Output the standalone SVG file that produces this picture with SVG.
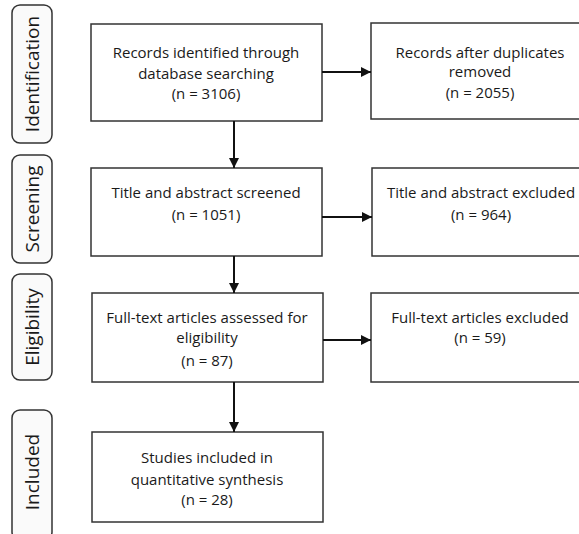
<svg xmlns="http://www.w3.org/2000/svg" width="579" height="534" viewBox="0 0 579 534">
<defs>
<marker id="ah" viewBox="0 0 10 10" refX="10" refY="5" markerWidth="10" markerHeight="10" markerUnits="userSpaceOnUse" orient="auto">
<path d="M0,0 L10,5 L0,10 z" fill="#111"/>
</marker>
</defs>
<style>
.box{fill:#fff;stroke:#333;stroke-width:1.5}
.pill{fill:#fafafa;stroke:#333;stroke-width:1.5}
.t{font-family:"Open Sans","Noto Sans","Liberation Sans",sans-serif;font-size:15px;fill:#1a1a1a;text-anchor:middle}
.s{font-family:"Open Sans","Noto Sans","Liberation Sans",sans-serif;font-size:19px;fill:#1a1a1a;text-anchor:middle}
.c{stroke:#111;stroke-width:2;fill:none;marker-end:url(#ah)}
</style>
<rect width="579" height="534" fill="#fff"/>
<g id="stage-identification"><rect class="pill" x="12" y="5" width="40" height="138" rx="8"/><text class="s" transform="translate(39,74) rotate(-90)">Identification</text></g>
<g id="stage-screening"><rect class="pill" x="12" y="155" width="40" height="108" rx="8"/><text class="s" transform="translate(39,209) rotate(-90)">Screening</text></g>
<g id="stage-eligibility"><rect class="pill" x="12" y="274" width="40" height="106" rx="8"/><text class="s" transform="translate(39,327) rotate(-90)">Eligibility</text></g>
<g id="stage-included"><rect class="pill" x="12" y="410" width="40" height="130" rx="8"/><text class="s" transform="translate(39,472) rotate(-90)">Included</text></g>

<g id="n1"><rect class="box" x="91" y="24" width="231" height="97"/>
<text class="t" x="206" y="58">Records identified through</text>
<text class="t" x="206" y="79">database searching</text>
<text class="t" x="206" y="99">(n = 3106)</text></g>
<g id="n2"><rect class="box" x="371" y="23" width="220" height="96"/>
<text class="t" x="480" y="58">Records after duplicates</text>
<text class="t" x="480" y="77">removed</text>
<text class="t" x="480" y="98">(n = 2055)</text></g>
<g id="n3"><rect class="box" x="91" y="168" width="231" height="88"/>
<text class="t" x="206" y="198">Title and abstract screened</text>
<text class="t" x="206" y="220">(n = 1051)</text></g>
<g id="n4"><rect class="box" x="372" y="168" width="219" height="88"/>
<text class="t" x="481" y="198">Title and abstract excluded</text>
<text class="t" x="481" y="220">(n = 964)</text></g>
<g id="n5"><rect class="box" x="92" y="293" width="231" height="89"/>
<text class="t" x="207" y="323">Full-text articles assessed for</text>
<text class="t" x="207" y="343">eligibility</text>
<text class="t" x="207" y="366">(n = 87)</text></g>
<g id="n6"><rect class="box" x="371" y="293" width="220" height="89"/>
<text class="t" x="480" y="323">Full-text articles excluded</text>
<text class="t" x="480" y="343">(n = 59)</text></g>
<g id="n7"><rect class="box" x="92" y="432" width="231" height="90"/>
<text class="t" x="207" y="463">Studies included in</text>
<text class="t" x="207" y="485">quantitative synthesis</text>
<text class="t" x="207" y="505">(n = 28)</text></g>

<g id="connectors">
<line class="c" x1="322" y1="72" x2="371" y2="72"/>
<line class="c" x1="234" y1="121" x2="234" y2="168"/>
<line class="c" x1="322" y1="217" x2="372" y2="217"/>
<line class="c" x1="234" y1="256" x2="234" y2="293"/>
<line class="c" x1="323" y1="340" x2="371" y2="340"/>
<line class="c" x1="234" y1="382" x2="234" y2="432"/>
</g>
</svg>
